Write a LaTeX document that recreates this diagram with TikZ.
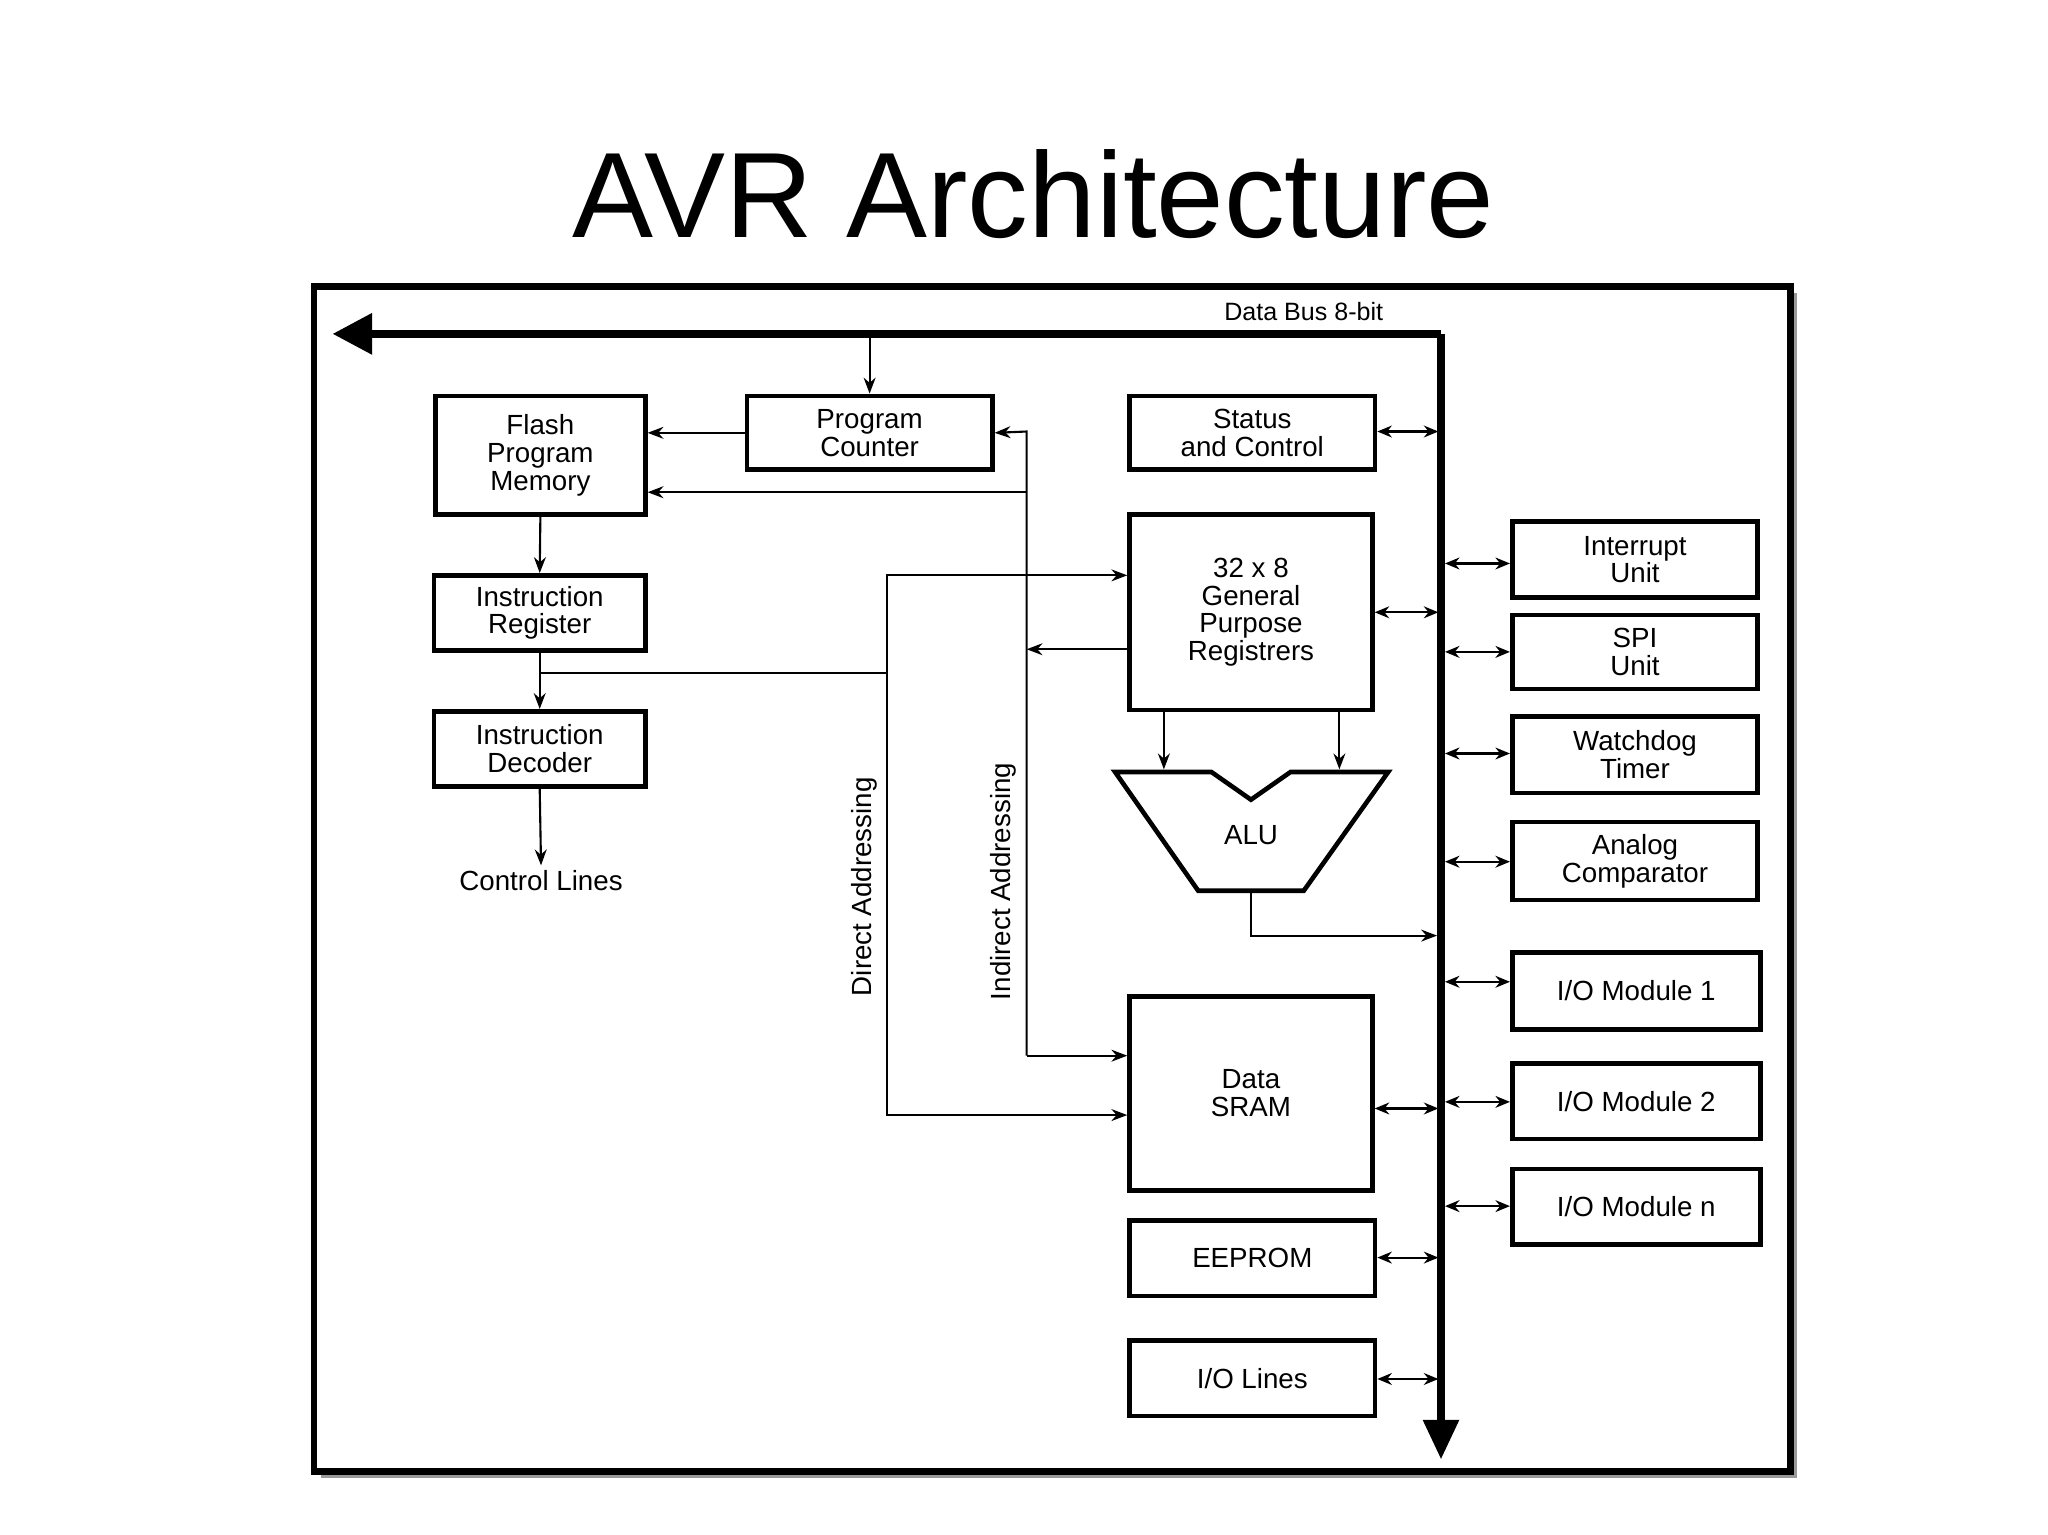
\documentclass[tikz,border=0pt]{standalone}
\usepackage{fontspec}
\setmainfont{Liberation Sans}
\usetikzlibrary{arrows.meta}
\begin{document}
\begin{tikzpicture}[x=1pt,y=-1pt,
  box/.style={draw,line width=3.5pt,fill=white,align=center,font=\fontsize{21}{21}\selectfont,inner sep=0pt},
  con/.style={line width=1.6pt,-{Stealth[length=12pt,width=9pt]}},
  bi/.style={line width=1.6pt,{Stealth[length=11pt,width=9pt]}-{Stealth[length=11pt,width=9pt]}},
  txt/.style={font=\fontsize{21}{21}\selectfont}]
\useasboundingbox (0,0) rectangle (1552,1163);
\node[font=\fontsize{92}{92}\selectfont] (title) at (783,147) {AVR Architecture};
% frame with shadow
\fill[black!40] (243,222) rectangle (1362,1120);
\draw[line width=5pt,fill=white] (238,217) rectangle (1357,1115);
% bus
\coordinate (bc) at (1092,253);
\coordinate (bl) at (252,253);
\coordinate (bb) at (1092,1106);
\draw[line width=6pt,-{Triangle[length=30pt,width=30pt]}] (bc) -- (bl);
\draw[line width=6pt,-{Triangle[length=30pt,width=26pt]}] (bc) -- (bb);
\node[txt,font=\fontsize{19}{19}\selectfont] (dbl) at (988,236) {Data Bus 8-bit};
% boxes
\newcommand{\bx}[6]{\node[box,minimum width=#4-#2,minimum height=#5-#3] (#1) at ({(#2+#4)/2},{(#3+#5)/2}) {#6};}
\bx{flash}{330}{300}{489}{390}{Flash\\Program\\Memory}
\bx{pc}{566}{300}{752}{356}{Program\\Counter}
\bx{stat}{856}{300}{1042}{356}{Status\\and Control}
\bx{gpr}{856}{390}{1040}{538}{32 x 8\\General\\Purpose\\Registrers}
\bx{ir}{329}{436}{489}{493}{Instruction\\Register}
\bx{id}{329}{539}{489}{596}{Instruction\\Decoder}
\bx{sram}{856}{755}{1040}{902}{Data\\SRAM}
\bx{eep}{856}{925}{1042}{982}{EEPROM}
\bx{iol}{856}{1016}{1042}{1073}{I/O Lines}
\bx{intr}{1146}{395}{1332}{453}{Interrupt\\Unit}
\bx{spi}{1146}{466}{1332}{522}{SPI\\Unit}
\bx{wdt}{1146}{543}{1332}{601}{Watchdog\\Timer}
\bx{ac}{1146}{623}{1332}{682}{Analog\\Comparator}
\bx{io1}{1146}{722}{1334}{780}{I/O Module 1}
\bx{io2}{1146}{806}{1334}{863}{I/O Module 2}
\bx{ion}{1146}{886}{1334}{943}{I/O Module n}
\node[txt] (cl) at (410,667) {Control Lines};
% ALU
\draw[line width=3.5pt,line join=miter] (845,585) -- (918,585) -- (948,606) -- (978,585) -- (1052,585) -- (988,675) -- (908,675) -- cycle;
\node[txt] (alu) at (948,633) {ALU};
\coordinate (alul) at (882,583); \coordinate (alur) at (1015,583); \coordinate (aluo) at (948,675);
% connectors
\draw[con] (659,253) -- (pc.north);
\draw[con] (pc.west) -- (pc.west -| flash.east);
\coordinate (ind) at (778,373);
\draw[con] (ind) -- (ind -| flash.east);
\draw[con] (778,800) -- (778,327) -- (pc.east);
\draw[con] (778,800) -- (sram.west |- 0,800);
\draw[con] (gpr.west |- 0,492) -- (778,492);
\draw[con] (672,510) -- (672,436) -- (gpr.west |- 0,436);
\draw[con] (672,510) -- (672,845) -- (sram.west |- 0,845);
\draw[line width=1.6pt] (410,510) -- (672,510);
\draw[con] (flash.south) -- (ir.north);
\draw[con] (ir.south) -- (id.north);
\draw[con] (id.south) -- (cl.north);
\draw[con] (882,538) -- (alul);
\draw[con] (1015,538) -- (alur);
\draw[con] (aluo) -- (948,709) -- (1089,709);
\node[txt,rotate=90] (da) at (655,672) {Direct Addressing};
\node[txt,rotate=90] (ia) at (760,668) {Indirect Addressing};
% bus bidirectional
\foreach \n/\y in {stat/327,gpr/464,sram/840,eep/953,iol/1045}{\draw[bi] (\n.east |- 0,\y) -- (1090,\y);}
\foreach \n/\y in {intr/427,spi/494,wdt/571,ac/653,io1/744,io2/835,ion/914}{\draw[bi] (1095,\y) -- (\n.west |- 0,\y);}
\end{tikzpicture}
\end{document}
